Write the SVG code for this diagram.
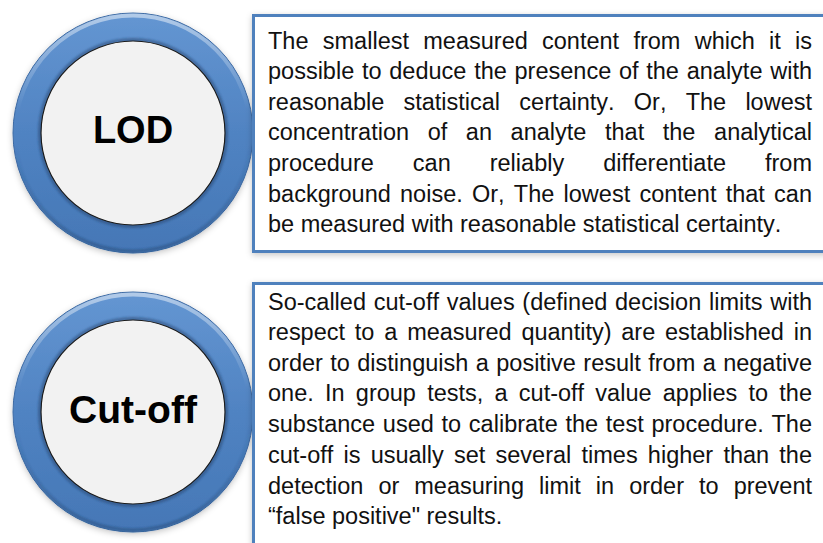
<svg xmlns="http://www.w3.org/2000/svg" xmlns:xlink="http://www.w3.org/1999/xlink" width="823" height="543" viewBox="0 0 823 543">
<style>
  .body { font-family: "Liberation Sans", Arial, sans-serif; font-size: 23.5px; fill: #111; font-kerning: none; }
  .title { font-family: "Liberation Sans", Arial, sans-serif; font-weight: bold; fill: #000; text-anchor: middle; }
  .box { fill: #ffffff; stroke: #4f81bd; stroke-width: 3; }
</style>
<defs>
  <linearGradient id="ringGrad" x1="0" y1="0" x2="0" y2="1">
    <stop offset="0" stop-color="#6496d2"/>
    <stop offset="0.5" stop-color="#5083c2"/>
    <stop offset="1" stop-color="#4577b6"/>
  </linearGradient>
  <linearGradient id="hlGrad" x1="0" y1="0" x2="0" y2="1">
    <stop offset="0" stop-color="#ffffff" stop-opacity="0.5"/>
    <stop offset="0.4" stop-color="#ffffff" stop-opacity="0"/>
  </linearGradient>
  <linearGradient id="lowGrad" x1="0" y1="0" x2="0" y2="1">
    <stop offset="0.55" stop-color="#1f3f66" stop-opacity="0"/>
    <stop offset="1" stop-color="#1f3f66" stop-opacity="0.45"/>
  </linearGradient>
  <filter id="shadow" x="-20%" y="-20%" width="140%" height="140%">
    <feGaussianBlur in="SourceAlpha" stdDeviation="3"/>
    <feOffset dx="0" dy="2" result="b"/>
    <feFlood flood-color="#000" flood-opacity="0.22"/>
    <feComposite in2="b" operator="in"/>
    <feMerge><feMergeNode/><feMergeNode in="SourceGraphic"/></feMerge>
  </filter>
  <filter id="soft" x="-20%" y="-20%" width="140%" height="140%">
    <feGaussianBlur stdDeviation="1.2"/>
  </filter>
  <g id="ring">
    <circle r="120" fill="url(#ringGrad)" stroke="#3d6aa3" stroke-width="1" filter="url(#shadow)"/>
    <circle r="117.5" fill="none" stroke="url(#hlGrad)" stroke-width="4"/>
    <circle r="118" fill="none" stroke="url(#lowGrad)" stroke-width="3" filter="url(#soft)"/>
    <circle r="93.5" fill="none" stroke="#24456f" stroke-opacity="0.55" stroke-width="3" filter="url(#soft)"/>
    <circle r="92" fill="#f2f2f2" stroke="#1a1a1a" stroke-width="1.2"/>
  </g>
</defs>
<rect width="823" height="543" fill="#ffffff"/>

<g id="lod-node">
  <use xlink:href="#ring" x="133" y="133"/>
  <text class="title" x="133" y="143" font-size="38">LOD</text>
</g>

<g id="lod-text">
  <rect class="box" x="253.5" y="15.5" width="580" height="236" filter="url(#shadow)"/>
  <text class="body" x="268" y="48.5" word-spacing="7.7" textLength="544" lengthAdjust="spacing">The smallest measured content from which it is</text>
  <text class="body" x="268" y="79" word-spacing="1.2" textLength="544" lengthAdjust="spacing">possible to deduce the presence of the analyte with</text>
  <text class="body" x="268" y="109.5" word-spacing="12.7" textLength="544" lengthAdjust="spacing">reasonable statistical certainty. Or, The lowest</text>
  <text class="body" x="268" y="140" word-spacing="12.1" textLength="544" lengthAdjust="spacing">concentration of an analyte that the analytical</text>
  <text class="body" x="268" y="171" word-spacing="32.5" textLength="544" lengthAdjust="spacing">procedure can reliably differentiate from</text>
  <text class="body" x="268" y="201.5" word-spacing="2.7" textLength="544" lengthAdjust="spacing">background noise. Or, The lowest content that can</text>
  <text class="body" x="268" y="232">be measured with reasonable statistical certainty.</text>
</g>

<g id="cutoff-node">
  <use xlink:href="#ring" x="133" y="412"/>
  <text class="title" x="133" y="423" font-size="39">Cut-off</text>
</g>

<g id="cutoff-text">
  <rect class="box" x="253.5" y="283.5" width="580" height="280" filter="url(#shadow)"/>
  <text class="body" x="268" y="309.5" word-spacing="1.2" textLength="544" lengthAdjust="spacing">So-called cut-off values (defined decision limits with</text>
  <text class="body" x="268" y="340" word-spacing="3.3" textLength="544" lengthAdjust="spacing">respect to a measured quantity) are established in</text>
  <text class="body" x="268" y="370.7" word-spacing="0.9" textLength="544" lengthAdjust="spacing">order to distinguish a positive result from a negative</text>
  <text class="body" x="268" y="401.4" word-spacing="4.7" textLength="544" lengthAdjust="spacing">one. In group tests, a cut-off value applies to the</text>
  <text class="body" x="268" y="432.1" word-spacing="1.2" textLength="544" lengthAdjust="spacing">substance used to calibrate the test procedure. The</text>
  <text class="body" x="268" y="462.8" word-spacing="3.7" textLength="544" lengthAdjust="spacing">cut-off is usually set several times higher than the</text>
  <text class="body" x="268" y="493.5" word-spacing="8.5" textLength="544" lengthAdjust="spacing">detection or measuring limit in order to prevent</text>
  <text class="body" x="268" y="524.2">“false positive" results.</text>
</g>
</svg>
